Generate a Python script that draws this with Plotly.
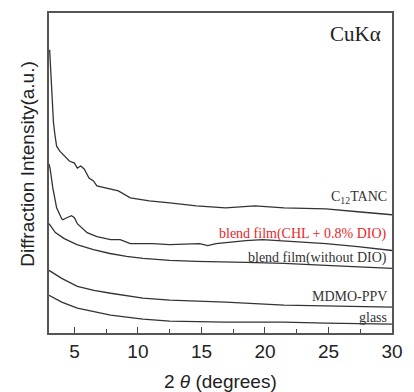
import plotly.graph_objects as go

# 2θ (degrees) and relative intensities (a.u., offset stacked)
c12_x = [3.05, 3.2, 3.35, 3.46, 3.6, 3.85, 4.23, 4.6, 5.0, 5.23, 5.5, 5.77, 6.15, 6.5, 6.77, 7.85, 8.46, 9.4, 10.9, 12.5, 14.6, 16.9, 19.2, 21.5, 24.8, 27.3, 29.85, 30.0]
c12_y = [285, 240, 212, 200, 188, 183, 178, 173, 171, 166, 168, 165, 156, 153, 148, 145, 143, 136, 133, 131, 128, 126, 128, 126, 125, 122, 119, 119]

chl_x = [3.0, 3.08, 3.3, 3.6, 4.0, 4.08, 4.4, 4.77, 5.0, 5.23, 6.0, 6.77, 7.85, 8.6, 9.4, 11.15, 12.5, 14.85, 15.5, 16.15, 18.5, 19.8, 22.3, 24.8, 27.3, 29.85, 30.0]
chl_y = [170, 166, 146, 126, 115, 114, 116, 118, 116, 110, 101, 97, 94, 94, 90, 90, 89, 90, 88, 90, 93, 94, 92, 90, 87, 83, 83]

nodio_x = [3.0, 3.5, 4.2, 5.2, 6.5, 7.8, 9.1, 10.4, 12.5, 14.6, 18.5, 21.5, 24.8, 29.85, 30.0]
nodio_y = [110, 101, 95, 89, 84, 80, 77, 75, 73, 72, 71, 70, 68, 65, 65]

mdmo_x = [3.0, 4.0, 5.23, 6.54, 7.85, 10.4, 12.5, 14.6, 16.9, 21.5, 24.8, 29.85, 30.0]
mdmo_y = [63, 55, 47, 43, 40, 35, 33, 32, 31, 28, 27, 26, 26]

glass_x = [3.0, 4.0, 5.23, 7.85, 10.4, 12.5, 16.9, 21.5, 24.8, 29.85, 30.0]
glass_y = [38, 31, 25, 18, 14, 12, 11, 11, 10, 9, 9]

series = [
    ("C12TANC", c12_x, c12_y),
    ("blend film(CHL + 0.8% DIO)", chl_x, chl_y),
    ("blend film(without DIO)", nodio_x, nodio_y),
    ("MDMO-PPV", mdmo_x, mdmo_y),
    ("glass", glass_x, glass_y),
]

labels = [
    ("C<sub>12</sub>TANC", 136, "#333333"),
    ("blend film(CHL + 0.8% DIO)", 100, "#e8262a"),
    ("blend film(without DIO)", 75, "#333333"),
    ("MDMO-PPV", 37, "#333333"),
    ("glass", 16, "#333333"),
]

fig = go.Figure()
for name, xs, ys in series:
    fig.add_trace(go.Scatter(x=xs, y=ys, mode="lines", name=name,
                             line=dict(color="#333333", width=1.3),
                             showlegend=False, hoverinfo="skip"))

serif = "Liberation Serif, Times New Roman, serif"
sans = "Liberation Sans, Arial, sans-serif"

for text, yv, col in labels:
    fig.add_annotation(x=29.8, y=yv, xref="x", yref="y", text=text, showarrow=False,
                       xanchor="right", yanchor="middle",
                       font=dict(family=serif, size=14, color=col))

fig.add_annotation(x=29.3, y=301, xref="x", yref="y", text="CuKα", showarrow=False,
                   xanchor="right", yanchor="middle",
                   font=dict(family=serif, size=21, color="#222222"))

fig.add_annotation(x=-0.063, y=0.53, xref="paper", yref="paper",
                   text="Diffraction Intensity(a.u.)", textangle=-90, showarrow=False,
                   xanchor="center", yanchor="middle",
                   font=dict(family=sans, size=19, color="#222222"))
fig.add_annotation(x=0.501, y=-0.152, xref="paper", yref="paper",
                   text="2 <i>θ</i> (degrees)", showarrow=False,
                   xanchor="center", yanchor="middle",
                   font=dict(family=sans, size=19, color="#222222"))

fig.update_layout(
    width=414, height=392,
    margin=dict(l=49, r=14, t=11, b=59),
    paper_bgcolor="white", plot_bgcolor="white",
    xaxis=dict(range=[3, 30], tick0=0, dtick=5, ticks="inside", ticklen=6,
               tickwidth=1, tickcolor="#444444",
               minor=dict(dtick=2.5, tick0=0, ticks="inside", ticklen=4, tickcolor="#444444"),
               showgrid=False, zeroline=False, showline=True, linecolor="#555555",
               linewidth=1.5, mirror=True,
               tickfont=dict(family=sans, size=19, color="#222222")),
    yaxis=dict(range=[0, 322], showticklabels=False, ticks="", showgrid=False,
               zeroline=False, showline=True, linecolor="#555555", linewidth=1.5,
               mirror=True),
)

fig.write_html("out.html", config={"displayModeBar": False},
               post_script="document.body.style.margin='0';document.body.style.overflow='hidden';")
